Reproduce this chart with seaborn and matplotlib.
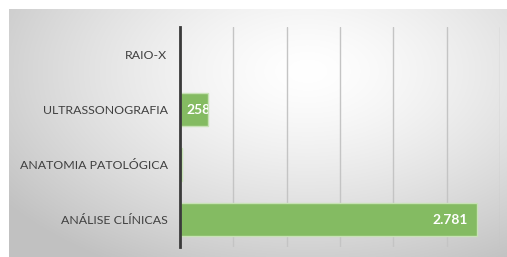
import matplotlib.pyplot as plt
import numpy as np
import pandas as pd
import seaborn as sns

sns.set_theme(style="white")
plt.rcParams["font.family"] = ["Lato", "DejaVu Sans"]

# data
categories = ["RAIO-X", "ULTRASSONOGRAFIA", "ANATOMIA PATOLÓGICA", "ANÁLISE CLÍNICAS"]
values = [0, 258, 15, 2781]
x_ticks = [0, 500, 1000, 1500, 2000, 2500, 3000]

df = pd.DataFrame({"exame": categories, "total": values})

W, H = 507, 257
fig = plt.figure(figsize=(W / 100, H / 100), dpi=100)
fig.patch.set_facecolor("white")

# grey radial gradient panel behind the chart
bg = fig.add_axes([9 / W, 0, 1 - 9 / W, 1 - 9 / H])
yy, xx = np.mgrid[0:1:200j, 0:1:400j]
dist = np.sqrt(((xx - 0.6) / 0.75) ** 2 + ((yy - 0.25) / 0.9) ** 2)
shade = 1.0 - 0.24 * np.clip(dist, 0, 1) ** 1.4
bg.imshow(np.dstack([shade] * 3), aspect="auto", extent=[0, 1, 1, 0])
bg.axis("off")

ax = fig.add_axes([180 / W, 1 - 247 / H, 320 / W, 220 / H])
ax.set_facecolor("none")
sns.barplot(data=df, x="total", y="exame", orient="h", color="#84bb62",
            saturation=1, width=0.6, edgecolor="#c8e2b6", linewidth=1,
            ax=ax, zorder=3)

ax.set_xlim(0, 3000)
ax.set_ylim(3.5, -0.5)
ax.set_xticks(x_ticks)
ax.set_xticklabels([])
ax.grid(axis="x", color="#c4c4c4", linewidth=1)
ax.set_axisbelow(True)
ax.tick_params(axis="y", length=0, pad=9, labelsize=8.9, labelcolor="#404040")
ax.tick_params(axis="x", length=0)
ax.set_xlabel("")
ax.set_ylabel("")
for side in ["top", "right", "bottom"]:
    ax.spines[side].set_visible(False)
ax.spines["left"].set_color("#3a3a3a")
ax.spines["left"].set_linewidth(2)
ax.spines["left"].set_zorder(5)

# value labels inside the bar end, clipped to the bar
for bar, val in zip(ax.patches, values):
    y = bar.get_y() + bar.get_height() / 2
    label = f"{val:,}".replace(",", ".")
    if val >= 500:
        txt = ax.annotate(label, (val, y), xytext=(-6, 0), textcoords="offset points",
                          ha="right", va="center", color="white", fontsize=10,
                          fontweight="bold", zorder=4)
    else:
        txt = ax.annotate(label, (0, y), xytext=(4.5, 0), textcoords="offset points",
                          ha="left", va="center", color="white", fontsize=10,
                          fontweight="bold", zorder=4)
    txt.set_clip_path(bar)

fig.savefig("out.png", dpi=100)
plt.close(fig)
